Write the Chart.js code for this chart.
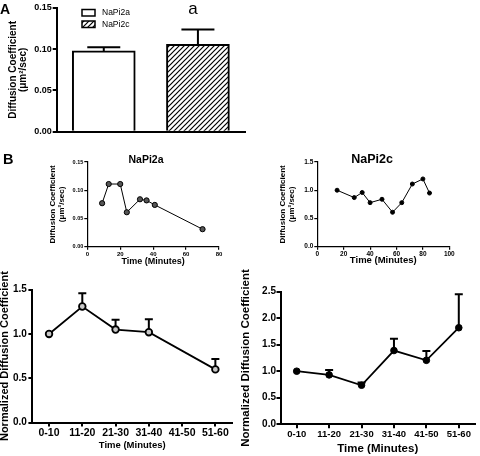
<!DOCTYPE html>
<html>
<head>
<meta charset="utf-8">
<script src="https://cdn.jsdelivr.net/npm/chart.js@4/dist/chart.umd.min.js"></script>
<style>
  html, body { margin: 0; padding: 0; background: #fff; }
  #fig { position: relative; width: 480px; height: 456px; overflow: hidden; }
  #fig canvas { position: absolute; left: 0; top: 0; }
</style>
</head>
<body>
<div id="fig">
  <canvas id="panelA" width="480" height="456"></canvas>
  <canvas id="rawA" width="480" height="456"></canvas>
  <canvas id="rawC" width="480" height="456"></canvas>
  <canvas id="normA" width="480" height="456"></canvas>
  <canvas id="normC" width="480" height="456"></canvas>
</div>
<script>
// Panel A: mean diffusion coefficient (um^2/sec)
const groups = ['NaPi2a', 'NaPi2c']
const meanDiffusion = [0.098, 0.106]
const semDiffusion = [0.0043, 0.018]

// Panel B top: raw diffusion coefficient over time
const timeNaPi2a = [9, 13, 20, 24, 32, 36, 41, 70]
const diffNaPi2a = [0.077, 0.111, 0.111, 0.061, 0.084, 0.082, 0.074, 0.031]
const timeNaPi2c = [15, 28, 34, 40, 49, 57, 64, 72, 80, 85]
const diffNaPi2c = [1.0, 0.87, 0.96, 0.78, 0.84, 0.61, 0.78, 1.11, 1.2, 0.95]

// Panel B bottom: normalized diffusion coefficient per time bin
const timeBins = ['0-10', '11-20', '21-30', '31-40', '41-50', '51-60']
const normNaPi2a = [1.0, 1.31, 1.05, 1.02, null, 0.6]
const normNaPi2aSem = [0, 0.15, 0.11, 0.145, null, 0.118]
const normNaPi2c = [1.0, 0.93, 0.735, 1.39, 1.205, 1.82]
const normNaPi2cSem = [0, 0.095, 0.05, 0.22, 0.176, 0.63]

const FONT = '"Liberation Sans", Arial, Helvetica, sans-serif'
Chart.defaults.font.family = FONT
Chart.defaults.color = '#000'
Chart.defaults.animation = false
Chart.defaults.responsive = false
Chart.defaults.events = []
Chart.defaults.plugins.legend.display = false
Chart.defaults.plugins.tooltip.enabled = false

// diagonal hatch fill for the NaPi2c bar
function hatch() {
  const c = document.createElement('canvas')
  c.width = c.height = 5
  const g = c.getContext('2d')
  g.fillStyle = '#fff'
  g.fillRect(0, 0, 5, 5)
  g.strokeStyle = '#000'
  g.lineWidth = 1.2
  g.beginPath()
  g.moveTo(0, 5); g.lineTo(5, 0)
  g.moveTo(-1, 1); g.lineTo(1, -1)
  g.moveTo(4, 6); g.lineTo(6, 4)
  g.stroke()
  return g.createPattern(c, 'repeat')
}

// upper error bars (mean + SEM) read from dataset.errors
const errorBars = {
  id: 'errorBars',
  beforeDatasetsDraw(chart) {
    const ctx = chart.ctx
    const y = chart.scales.y
    chart.data.datasets.forEach((ds, i) => {
      if (!ds.errors) return
      const meta = chart.getDatasetMeta(i)
      ctx.save()
      ctx.strokeStyle = '#000'
      ctx.lineWidth = ds.errorWidth || 1.5
      meta.data.forEach((el, j) => {
        const v = ds.data[j]
        const e = ds.errors[j]
        if (v == null || !e) return
        const y0 = y.getPixelForValue(v)
        const y1 = y.getPixelForValue(v + e)
        const half = ds.errorCap / 2
        ctx.beginPath()
        ctx.moveTo(el.x, y0)
        ctx.lineTo(el.x, y1)
        ctx.moveTo(el.x - half, y1)
        ctx.lineTo(el.x + half, y1)
        ctx.stroke()
      })
      ctx.restore()
    })
  }
}

// free text (panel letters, titles, significance mark)
function texts(items) {
  return {
    id: 'texts',
    afterDraw(chart) {
      const ctx = chart.ctx
      items.forEach(t => {
        ctx.save()
        ctx.font = t.font + ' ' + FONT
        ctx.fillStyle = '#000'
        ctx.textAlign = t.align || 'center'
        ctx.textBaseline = t.baseline || 'middle'
        ctx.fillText(t.text, t.x, t.y)
        ctx.restore()
      })
    }
  }
}

// small box legend like GraphPad's
function boxLegend(x, y, gap) {
  return {
    id: 'boxLegend',
    afterDraw(chart) {
      const ctx = chart.ctx
      chart.data.datasets.forEach((ds, i) => {
        const top = y + i * gap
        ctx.save()
        ctx.fillStyle = ds.backgroundColor
        ctx.fillRect(x, top, 13, 6.5)
        ctx.lineWidth = 1.5
        ctx.strokeStyle = '#000'
        ctx.strokeRect(x, top, 13, 6.5)
        ctx.fillStyle = '#000'
        ctx.font = '8.5px ' + FONT
        ctx.textBaseline = 'middle'
        ctx.fillText(ds.label, x + 20, top + 3.5)
        ctx.restore()
      })
    }
  }
}

function yAxis(o) {
  return {
    min: 0,
    max: o.max,
    ticks: {
      stepSize: o.step,
      callback: v => v.toFixed(o.digits),
      font: { size: o.tickSize, weight: 'bold' },
      padding: o.tickPad
    },
    grid: { drawOnChartArea: false, color: '#000', tickLength: o.tickLen, lineWidth: o.line },
    border: { color: '#000', width: o.line },
    title: {
      display: true,
      text: o.title,
      font: { size: o.titleSize, weight: 'bold', lineHeight: o.titleLH },
      padding: { top: o.titlePad, bottom: 0 }
    },
    afterFit: s => { s.width = o.width }
  }
}

function xAxis(o) {
  return {
    type: o.type,
    offset: o.type === 'category',
    min: o.min,
    max: o.max,
    ticks: {
      stepSize: o.step,
      font: { size: o.tickSize, weight: 'bold' },
      padding: o.tickPad,
      maxRotation: 0,
      autoSkip: false
    },
    grid: { drawOnChartArea: false, color: '#000', tickLength: o.tickLen, lineWidth: o.line },
    border: { color: '#000', width: o.line },
    title: {
      display: true,
      text: 'Time (Minutes)',
      font: { size: o.titleSize, weight: 'bold', lineHeight: 1.2 },
      padding: { top: 0, bottom: o.titlePad }
    },
    afterFit: s => { s.height = o.height }
  }
}

// ---- Panel A ----
new Chart(document.getElementById('panelA'), {
  type: 'bar',
  data: {
    labels: groups,
    datasets: groups.map((g, i) => ({
      label: g,
      data: groups.map((_, j) => j === i ? meanDiffusion[i] : null),
      errors: groups.map((_, j) => j === i ? semDiffusion[i] : null),
      errorCap: 33,
      errorWidth: 2,
      backgroundColor: i === 0 ? '#fff' : hatch(),
      borderColor: '#000',
      borderWidth: 2,
      barThickness: 63,
      grouped: false
    }))
  },
  options: {
    layout: { padding: { left: 0, top: 8, right: 480 - 245, bottom: 316 } },
    scales: {
      x: {
        ticks: { display: false },
        grid: { display: false },
        border: { color: '#000', width: 2 },
        afterFit: s => { s.height = 8.3 }
      },
      y: yAxis({
        max: 0.15, step: 0.05, digits: 2, tickSize: 9, tickPad: 1, tickLen: 4, line: 2,
        title: ['Diffusion Coefficient', '(\u03bcm\u00b2/sec)'], titleSize: 10, titleLH: 1, titlePad: 8,
        width: 56.7
      })
    }
  },
  plugins: [errorBars, boxLegend(82, 9.5, 11.5), texts([
    { text: 'A', x: 0, y: 13.5, font: 'bold 14px', align: 'left', baseline: 'alphabetic' },
    { text: 'a', x: 193, y: 14, font: '17px', baseline: 'alphabetic' }
  ])]
})

// ---- Panel B, NaPi2a raw ----
new Chart(document.getElementById('rawA'), {
  type: 'line',
  data: {
    datasets: [{
      data: timeNaPi2a.map((t, i) => ({ x: t, y: diffNaPi2a[i] })),
      borderColor: '#000',
      borderWidth: 1,
      pointRadius: 2.6,
      pointBackgroundColor: '#555',
      pointBorderColor: '#000',
      pointBorderWidth: 1
    }]
  },
  options: {
    layout: { padding: { left: 40, top: 162, right: 480 - 219, bottom: 456 - 246.7 - 22 } },
    scales: {
      x: xAxis({ type: 'linear', min: 0, max: 80, step: 20, tickSize: 6, tickPad: 1, tickLen: 3, line: 1.2,
        titleSize: 9, titlePad: 1.3, height: 22 }),
      y: yAxis({
        max: 0.15, step: 0.05, digits: 2, tickSize: 5.5, tickPad: 1, tickLen: 3, line: 1.2,
        title: ['Diffusion Coefficient', '(\u03bcm\u00b2/sec)'], titleSize: 8, titleLH: 1.1, titlePad: 8.1,
        width: 47.3
      })
    }
  },
  plugins: [texts([
    { text: 'B', x: 3, y: 164, font: 'bold 14.5px', align: 'left', baseline: 'alphabetic' },
    { text: 'NaPi2a', x: 146, y: 160, font: 'bold 10.5px' }
  ])]
})

// ---- Panel B, NaPi2c raw ----
new Chart(document.getElementById('rawC'), {
  type: 'line',
  data: {
    datasets: [{
      data: timeNaPi2c.map((t, i) => ({ x: t, y: diffNaPi2c[i] })),
      borderColor: '#000',
      borderWidth: 1,
      pointRadius: 2,
      pointBackgroundColor: '#000',
      pointBorderColor: '#000',
      pointBorderWidth: 1
    }]
  },
  options: {
    layout: { padding: { left: 275, top: 162, right: 480 - 449.3, bottom: 456 - 246.7 - 22 } },
    scales: {
      x: xAxis({ type: 'linear', min: 0, max: 100, step: 20, tickSize: 6.5, tickPad: 1, tickLen: 3, line: 1.2,
        titleSize: 9.5, titlePad: 2.5, height: 22 }),
      y: yAxis({
        max: 1.5, step: 0.5, digits: 1, tickSize: 6.5, tickPad: 1, tickLen: 3, line: 1.2,
        title: ['Diffusion Coefficient', '(\u03bcm\u00b2/sec)'], titleSize: 8, titleLH: 1.1, titlePad: 3.6,
        width: 42.3
      })
    }
  },
  plugins: [texts([
    { text: 'NaPi2c', x: 372, y: 159.5, font: 'bold 12.5px' }
  ])]
})

// ---- Panel B, NaPi2a normalized ----
new Chart(document.getElementById('normA'), {
  type: 'line',
  data: {
    labels: timeBins,
    datasets: [{
      data: normNaPi2a,
      errors: normNaPi2aSem,
      errorCap: 8,
      errorWidth: 2,
      spanGaps: true,
      borderColor: '#000',
      borderWidth: 1.8,
      pointRadius: 3.3,
      pointBackgroundColor: '#c8c8c8',
      pointBorderColor: '#000',
      pointBorderWidth: 1.8
    }]
  },
  options: {
    layout: { padding: { left: 0, top: 289.7, right: 480 - 232, bottom: 456 - 422.5 - 29 } },
    scales: {
      x: xAxis({ type: 'category', tickSize: 10.5, tickPad: 0, tickLen: 4, line: 2,
        titleSize: 9.5, titlePad: 0, height: 29 }),
      y: yAxis({
        max: 1.5, step: 0.5, digits: 1, tickSize: 10, tickPad: 1.5, tickLen: 4, line: 2,
        title: 'Normalized Diffusion Coefficient', titleSize: 11, titleLH: 0.8, titlePad: 0.5,
        width: 32.4
      })
    }
  },
  plugins: [errorBars]
})

// ---- Panel B, NaPi2c normalized ----
new Chart(document.getElementById('normC'), {
  type: 'line',
  data: {
    labels: timeBins,
    datasets: [{
      data: normNaPi2c,
      errors: normNaPi2cSem,
      errorCap: 8,
      errorWidth: 2,
      borderColor: '#000',
      borderWidth: 1.8,
      pointRadius: 3.3,
      pointBackgroundColor: '#000',
      pointBorderColor: '#000',
      pointBorderWidth: 1
    }]
  },
  options: {
    layout: { padding: { left: 240, top: 291.7, right: 1, bottom: 456 - 424.2 - 31.5 } },
    scales: {
      x: xAxis({ type: 'category', tickSize: 9.5, tickPad: 0, tickLen: 4, line: 2,
        titleSize: 11.5, titlePad: 0, height: 31.5 }),
      y: yAxis({
        max: 2.5, step: 0.5, digits: 1, tickSize: 10, tickPad: 0.5, tickLen: 4, line: 2,
        title: 'Normalized Diffusion Coefficient', titleSize: 11.5, titleLH: 0.8, titlePad: 0.9,
        width: 40.5
      })
    }
  },
  plugins: [errorBars]
})
</script>
</body>
</html>
